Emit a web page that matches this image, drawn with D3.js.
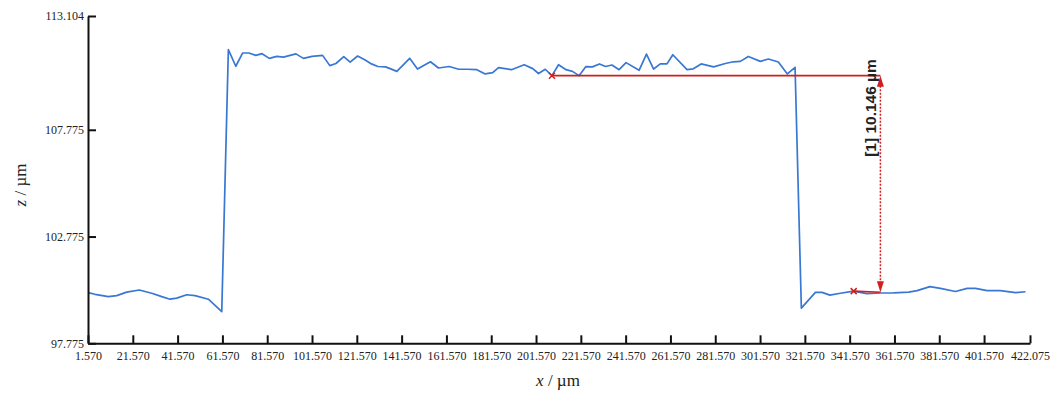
<!DOCTYPE html>
<html><head><meta charset="utf-8">
<script src="https://cdn.jsdelivr.net/npm/d3@7/dist/d3.min.js"></script>
<style>body{margin:0;background:#fff;} svg{display:block;}</style>
</head><body>
<svg id="c" width="1061" height="393"></svg>
<script>
// profile data (x in µm, z in µm)
const xValues = [1.57,4.70,10.64,14.39,18.85,24.48,30.02,34.49,38.19,41.19,45.65,49.36,55.30,61.28,
  64.23,67.54,70.57,73.39,76.51,79.28,82.50,85.85,88.80,94.38,97.73,101.61,106.30,109.52,112.25,115.73,
  118.59,121.94,125.28,128.10,131.00,134.35,136.45,139.44,145.16,148.64,154.45,158.02,162.80,167.05,
  170.84,175.17,178.88,182.23,184.82,190.58,196.30,200.10,202.68,205.68,208.67,211.62,214.97,217.83,
  220.77,223.77,226.76,229.89,232.61,235.46,238.64,241.77,247.57,250.87,254.05,257.04,260.03,262.63,
  268.97,271.78,275.27,280.85,286.07,289.65,292.77,296.34,301.70,305.27,309.74,313.76,317.20,
  320.01,326.27,329.26,332.74,337.44,343.37,349.18,355.30,361.24,367.93,371.69,377.41,382.10,388.79,
  394.02,397.73,402.95,408.89,415.59,420.07];
const zValues = [100.15,100.07,99.96,100.01,100.17,100.27,100.12,99.96,99.84,99.89,100.05,100.01,99.84,99.26,
  111.53,110.75,111.37,111.37,111.26,111.34,111.12,111.21,111.18,111.33,111.12,111.21,111.26,110.78,110.88,111.20,
  110.94,111.23,111.04,110.86,110.74,110.72,110.64,110.51,111.12,110.62,110.96,110.67,110.74,110.61,
  110.61,110.59,110.39,110.45,110.69,110.59,110.82,110.64,110.41,110.61,110.31,110.82,110.59,110.51,
  110.31,110.73,110.72,110.86,110.74,110.81,110.59,110.92,110.56,111.32,110.62,110.86,110.86,111.29,
  110.59,110.63,110.86,110.72,110.88,110.96,110.98,111.21,110.98,111.09,110.95,110.39,110.70,
  99.42,100.16,100.16,100.03,100.12,100.22,100.10,100.13,100.14,100.17,100.24,100.43,100.35,100.20,
  100.35,100.35,100.24,100.24,100.15,100.19];

const xTicks = [1.570,21.570,41.570,61.570,81.570,101.570,121.570,141.570,161.570,181.570,201.570,
  221.570,241.570,261.570,281.570,301.570,321.570,341.570,361.570,381.570,401.570,422.075];
const zTicks = [97.775,102.775,107.775,113.104];

// step-height measurement
const markerX = [208.67, 343.37];
const markerZ = [110.31, 100.22];
const stepX = 355.30;
const stepTop = 110.31;
const stepHeight = 10.146;
const stepLabel = "[1] 10.146 µm";

const svg = d3.select("#c");
const x = d3.scaleLinear().domain([1.570, 422.075]).range([88, 1030]);
const y = d3.scaleLinear().domain([97.775, 113.104]).range([343.3, 16]);

const serif = "'Liberation Serif','DejaVu Serif',serif";

// profile line
const pts = xValues.map((v,i)=>[v, zValues[i]]);
svg.append("path")
  .attr("d", d3.line().x(d=>x(d[0])).y(d=>y(d[1]))(pts))
  .attr("fill","none").attr("stroke","#3878d4").attr("stroke-width",1.7)
  .attr("stroke-linejoin","round");

// axes
const xAxis = svg.append("g").attr("transform",`translate(0,${y(97.775)})`)
  .call(d3.axisBottom(x).tickValues(xTicks).tickSize(-8).tickSizeOuter(0).tickPadding(8)
    .tickFormat(d3.format(".3f")));
const yAxis = svg.append("g").attr("transform",`translate(${x(1.570)},0)`)
  .call(d3.axisLeft(y).tickValues(zTicks).tickSize(-8).tickSizeOuter(0).tickPadding(4)
    .tickFormat(d3.format(".3f")));
[xAxis,yAxis].forEach(g=>{
  g.select(".domain").attr("stroke","#111").attr("stroke-width",2);
  g.selectAll(".tick line").attr("stroke","#111").attr("stroke-width",2);
  g.selectAll(".tick text").attr("fill","#222").style("font-family",serif).style("font-size","12px");
});

// axis titles
const xt = svg.append("text").attr("x",558).attr("y",386).attr("text-anchor","middle")
  .style("font-family",serif).style("font-size","17px").attr("fill","#222");
xt.append("tspan").attr("font-style","italic").text("x");
xt.append("tspan").text(" / µm");
const yt = svg.append("text").attr("transform","translate(26,185) rotate(-90)").attr("text-anchor","middle")
  .style("font-family",serif).style("font-size","17px").attr("fill","#222");
yt.append("tspan").attr("font-style","italic").text("z");
yt.append("tspan").text(" / µm");

// measurement annotation
const red = "#d01f1f";
const ax = x(stepX), yTop = y(stepTop), yBot = y(stepTop - stepHeight);
svg.append("line").attr("x1",x(markerX[0])).attr("y1",y(markerZ[0])).attr("x2",ax).attr("y2",yTop)
  .attr("stroke",red).attr("stroke-width",1.6);
svg.append("line").attr("x1",x(markerX[1])).attr("y1",y(markerZ[1])).attr("x2",ax).attr("y2",yBot)
  .attr("stroke",red).attr("stroke-width",1.6);
svg.append("line").attr("x1",ax).attr("y1",yTop+10).attr("x2",ax).attr("y2",yBot-10)
  .attr("stroke",red).attr("stroke-width",1.5).attr("stroke-dasharray","2,1.5");
svg.append("path").attr("d",`M${ax},${yTop} L${ax-3.5},${yTop+11} L${ax+3.5},${yTop+11} Z`).attr("fill",red);
svg.append("path").attr("d",`M${ax},${yBot} L${ax-3.5},${yBot-11} L${ax+3.5},${yBot-11} Z`).attr("fill",red);
markerX.forEach((mx,i)=>{
  const cx = x(mx), cy = y(markerZ[i]), s = 3;
  svg.append("path").attr("d",`M${cx-s},${cy-s}L${cx+s},${cy+s}M${cx-s},${cy+s}L${cx+s},${cy-s}`)
    .attr("stroke",red).attr("stroke-width",1.5);
});
svg.append("text").attr("transform",`translate(${ax-10},108) rotate(-90)`).attr("text-anchor","middle")
  .attr("dy","0.35em")
  .style("font-family","'Liberation Sans',Arial,sans-serif").style("font-size","15.5px")
  .style("font-weight","bold").attr("fill","#222").text(stepLabel);
</script>
</body></html>
